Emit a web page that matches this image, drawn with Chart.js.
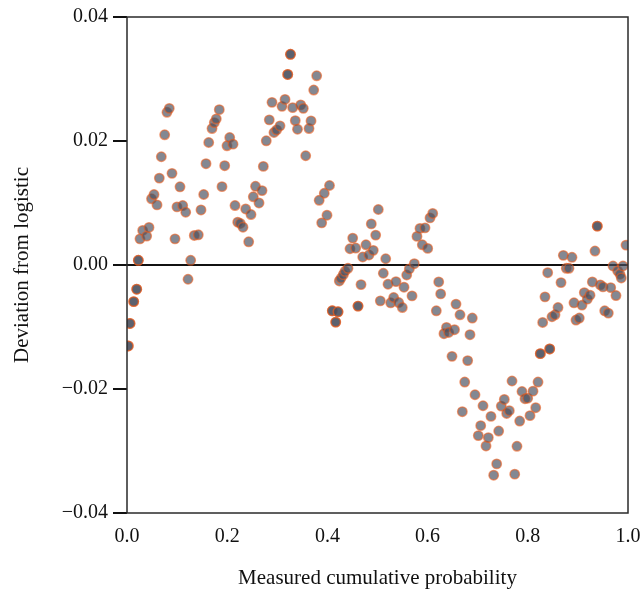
<!DOCTYPE html>
<html>
<head>
<meta charset="utf-8">
<script src="https://cdn.jsdelivr.net/npm/chart.js@4/dist/chart.umd.min.js"></script>
<style>
  html, body { margin: 0; padding: 0; background: #fff; }
  #wrap { width: 640px; height: 595px; }
</style>
</head>
<body>
<div id="wrap"><canvas id="devChart" width="640" height="595"></canvas></div>
<script>
'use strict';
// colours, kept up here so they are easy to tweak
var dotFill = 'rgba(74,80,94,0.68)';
var dotEdge = 'rgba(232,92,30,0.6)';
var frameCol = '#2a2a2a';
var serif = "'Liberation Serif', 'DejaVu Serif', serif";

// measured cumulative probability (x) and deviation from logistic (y)
// repeated pairs are the darker, stacked dots in the picture
var prob = [
  0.0026, 0.0026, 0.0060, 0.0060, 0.0134, 0.0134, 0.0194, 0.0194, 0.0226, 0.0226,
  0.0259, 0.0313, 0.0393, 0.0439, 0.0489, 0.0539, 0.0599, 0.0645, 0.0685, 0.0752,
  0.0798, 0.0844, 0.0898, 0.0958, 0.0998, 0.1058, 0.1112, 0.1172, 0.1218, 0.1271,
  0.1343, 0.1423, 0.1477, 0.1531, 0.1577, 0.1631, 0.1697, 0.1743, 0.1782, 0.1842,
  0.1896, 0.1950, 0.1996, 0.2050, 0.2116, 0.2156, 0.2210, 0.2261, 0.2315, 0.2369,
  0.2429, 0.2475, 0.2521, 0.2565, 0.2635, 0.2695, 0.2721, 0.2780, 0.2840, 0.2894,
  0.2934, 0.2988, 0.3054, 0.3094, 0.3154, 0.3208, 0.3208, 0.3263, 0.3263, 0.3307,
  0.3359, 0.3403, 0.3467, 0.3519, 0.3567, 0.3633, 0.3673, 0.3727, 0.3786, 0.3836,
  0.3886, 0.3938, 0.3992, 0.4042, 0.4098, 0.4098, 0.4166, 0.4166, 0.4212, 0.4212,
  0.4238, 0.4271, 0.4317, 0.4351, 0.4411, 0.4451, 0.4505, 0.4565, 0.4611, 0.4611,
  0.4671, 0.4705, 0.4770, 0.4830, 0.4876, 0.4916, 0.4964, 0.5016, 0.5056, 0.5116,
  0.5164, 0.5210, 0.5263, 0.5323, 0.5369, 0.5423, 0.5495, 0.5529, 0.5583, 0.5635,
  0.5689, 0.5735, 0.5788, 0.5848, 0.5894, 0.5948, 0.6002, 0.6048, 0.6102, 0.6174,
  0.6222, 0.6261, 0.6327, 0.6377, 0.6421, 0.6487, 0.6537, 0.6567, 0.6647, 0.6693,
  0.6741, 0.6800, 0.6846, 0.6892, 0.6946, 0.7012, 0.7060, 0.7106, 0.7166, 0.7212,
  0.7265, 0.7319, 0.7379, 0.7419, 0.7471, 0.7531, 0.7579, 0.7631, 0.7685, 0.7739,
  0.7784, 0.7838, 0.7884, 0.7944, 0.7998, 0.8044, 0.8104, 0.8158, 0.8204, 0.8250,
  0.8250, 0.8297, 0.8343, 0.8397, 0.8437, 0.8437, 0.8483, 0.8543, 0.8603, 0.8663,
  0.8709, 0.8768, 0.8822, 0.8882, 0.8922, 0.8962, 0.9028, 0.9082, 0.9128, 0.9188,
  0.9242, 0.9288, 0.9341, 0.9387, 0.9387, 0.9447, 0.9501, 0.9535, 0.9607, 0.9655,
  0.9701, 0.9760, 0.9794, 0.9840, 0.9866, 0.9900, 0.9960
];
var deviation = [
  -0.01306, -0.01306, -0.00943, -0.00943, -0.00590, -0.00590, -0.00390, -0.00390, 0.00076, 0.00076,
  0.00422, 0.00557, 0.00466, 0.00606, 0.01068, 0.01136, 0.00969, 0.01402, 0.01746, 0.02100,
  0.02463, 0.02527, 0.01478, 0.00422, 0.00937, 0.01261, 0.00959, 0.00851, -0.00230, 0.00076,
  0.00477, 0.00487, 0.00888, 0.01137, 0.01634, 0.01976, 0.02201, 0.02297, 0.02357, 0.02506,
  0.01264, 0.01602, 0.01923, 0.02056, 0.01949, 0.00959, 0.00691, 0.00670, 0.00610, 0.00904,
  0.00374, 0.00814, 0.01100, 0.01269, 0.01001, 0.01200, 0.01590, 0.02003, 0.02341, 0.02623,
  0.02137, 0.02180, 0.02244, 0.02559, 0.02671, 0.03073, 0.03073, 0.03398, 0.03398, 0.02538,
  0.02329, 0.02190, 0.02582, 0.02527, 0.01762, 0.02201, 0.02324, 0.02822, 0.03052, 0.01044,
  0.00680, 0.01157, 0.00803, 0.01282, -0.00739, -0.00739, -0.00921, -0.00921, -0.00755, -0.00755,
  -0.00257, -0.00214, -0.00156, -0.00101, -0.00053, 0.00262, 0.00434, 0.00273, -0.00663, -0.00663,
  -0.00316, 0.00129, 0.00326, 0.00161, 0.00663, 0.00236, 0.00482, 0.00895, -0.00578, -0.00133,
  0.00101, -0.00310, -0.00610, -0.00525, -0.00268, -0.00606, -0.00686, -0.00358, -0.00161, -0.00064,
  -0.00498, 0.00021, 0.00461, 0.00590, 0.00326, 0.00599, 0.00268, 0.00760, 0.00831, -0.00739,
  -0.00273, -0.00466, -0.01108, -0.01007, -0.01088, -0.01473, -0.01044, -0.00631, -0.00803, -0.02366,
  -0.01888, -0.01542, -0.01124, -0.00856, -0.02093, -0.02752, -0.02591, -0.02270, -0.02919, -0.02784,
  -0.02442, -0.03390, -0.03208, -0.02678, -0.02276, -0.02169, -0.02394, -0.02350, -0.01871, -0.03373,
  -0.02924, -0.02517, -0.02040, -0.02157, -0.02148, -0.02430, -0.02035, -0.02302, -0.01888, -0.01430,
  -0.01430, -0.00927, -0.00514, -0.00124, -0.01354, -0.01354, -0.00835, -0.00803, -0.00686, -0.00284,
  0.00156, -0.00053, -0.00053, 0.00124, -0.00610, -0.00888, -0.00856, -0.00647, -0.00445, -0.00551,
  -0.00487, -0.00273, 0.00225, 0.00627, 0.00627, -0.00321, -0.00353, -0.00739, -0.00776, -0.00365,
  -0.00016, -0.00493, -0.00096, -0.00149, -0.00209, -0.00016, 0.00321
];

var xTicks = [0, 0.2, 0.4, 0.6, 0.8, 1.0];
var xTickLabels = ['0.0', '0.2', '0.4', '0.6', '0.8', '1.0'];
var yTicks = [-0.04, -0.02, 0, 0.02, 0.04];
var yTickLabels = ['\u22120.04', '\u22120.02', '0.00', '0.02', '0.04'];

var points = prob.map(function (p, i) { return { x: p, y: deviation[i] }; });

// box round the plot area
var frame = {
  id: 'frame',
  afterDraw: function (chart) {
    var a = chart.chartArea, ctx = chart.ctx;
    ctx.save();
    ctx.strokeStyle = frameCol;
    ctx.lineWidth = 1.5;
    ctx.strokeRect(a.left, a.top, a.right - a.left, a.bottom - a.top);
    ctx.restore();
  }
};

function makeChart () {
  var ctx = document.getElementById('devChart');
  new Chart(ctx, {
    type: 'scatter',
    data: {
      datasets: [{
        data: points,
        backgroundColor: dotFill,
        borderColor: dotEdge,
        borderWidth: 1.5,
        pointRadius: 4.7,
        pointHoverRadius: 4.7
      }]
    },
    options: {
      responsive: false,
      animation: false,
      events: [],
      layout: { padding: { top: 15, right: 12, left: 0, bottom: 0 } },
      plugins: { legend: { display: false }, tooltip: { enabled: false } },
      scales: {
        x: {
          type: 'linear', min: 0, max: 1,
          afterBuildTicks: function (s) { s.ticks = xTicks.map(function (v) { return { value: v }; }); },
          afterFit: function (s) { s.height = 82; s.paddingLeft = 0; s.paddingRight = 0; },
          grid: { display: false },
          border: { display: false },
          ticks: {
            padding: 4, color: '#111', maxRotation: 0,
            font: { family: serif, size: 20 },
            callback: function (v, i) { return xTickLabels[i]; }
          },
          title: {
            display: true, text: 'Measured cumulative probability', color: '#111',
            font: { family: serif, size: 21 }, padding: { top: 0, bottom: 4 }
          }
        },
        y: {
          type: 'linear', min: -0.04, max: 0.04,
          afterBuildTicks: function (s) { s.ticks = yTicks.map(function (v) { return { value: v }; }); },
          afterFit: function (s) { s.width = 127; },
          border: { display: false },
          grid: {
            drawOnChartArea: true,
            tickLength: 14,
            tickWidth: 2,
            tickColor: '#111',
            lineWidth: 2,
            color: function (c) { return c.tick && c.tick.value === 0 ? '#111' : 'rgba(0,0,0,0)'; }
          },
          ticks: {
            padding: 5, color: '#111',
            font: { family: serif, size: 20 },
            callback: function (v, i) { return yTickLabels[i]; }
          },
          title: {
            display: true, text: 'Deviation from logistic', color: '#111',
            font: { family: serif, size: 21 }, padding: { top: 10, bottom: 0 }
          }
        }
      }
    },
    plugins: [frame]
  });
}
makeChart();
</script>
</body>
</html>
